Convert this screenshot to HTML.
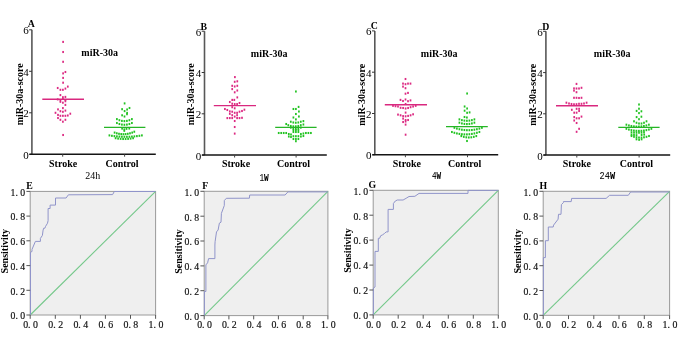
<!DOCTYPE html><html><head><meta charset="utf-8"><style>
html,body{margin:0;padding:0;background:#fff;overflow:hidden;}
svg{display:block;will-change:transform;}
text{font-family:'Liberation Serif', serif;}
.b{font-weight:bold;}
</style></head><body>
<svg width="685" height="358" viewBox="0 0 685 358">
<rect width="685" height="358" fill="#fff"/>
<line x1="31.9" y1="29.8" x2="31.9" y2="154.3" stroke="#585858" stroke-width="1.6"/>
<line x1="29.1" y1="154.3" x2="31.9" y2="154.3" stroke="#333" stroke-width="1"/>
<text x="25.9" y="158.7" font-size="11" text-anchor="middle">0</text>
<line x1="29.1" y1="112.8" x2="31.9" y2="112.8" stroke="#333" stroke-width="1"/>
<text x="25.9" y="117.2" font-size="11" text-anchor="middle">2</text>
<line x1="29.1" y1="71.3" x2="31.9" y2="71.3" stroke="#333" stroke-width="1"/>
<text x="25.9" y="75.7" font-size="11" text-anchor="middle">4</text>
<line x1="29.1" y1="29.8" x2="31.9" y2="29.8" stroke="#333" stroke-width="1"/>
<text x="25.9" y="34.2" font-size="11" text-anchor="middle">6</text>
<line x1="29.5" y1="154.3" x2="155.8" y2="154.3" stroke="#151515" stroke-width="1.5"/>
<line x1="62.7" y1="154.3" x2="62.7" y2="156.7" stroke="#444" stroke-width="1"/>
<line x1="124.6" y1="154.3" x2="124.6" y2="156.7" stroke="#444" stroke-width="1"/>
<text class="b" x="63.1" y="166.5" font-size="10" text-anchor="middle">Stroke</text>
<text class="b" x="122.0" y="166.5" font-size="10" text-anchor="middle">Control</text>
<text x="92.75" y="178.8" font-size="10.8" text-anchor="middle" textLength="14.9" lengthAdjust="spacingAndGlyphs">24h</text>
<text class="b" x="31.2" y="26.6" font-size="9.8" text-anchor="middle">A</text>
<text class="b" x="0" y="0" font-size="10" text-anchor="middle" transform="translate(23.2,94.3) rotate(-90)">miR-30a-score</text>
<text class="b" x="99.7" y="55.7" font-size="10" text-anchor="middle">miR-30a</text>
<rect x="62.25" y="40.85" width="1.7" height="2.1" fill="#dc2a82"/>
<rect x="62.25" y="50.95" width="1.7" height="2.1" fill="#dc2a82"/>
<rect x="62.25" y="60.75" width="1.7" height="2.1" fill="#dc2a82"/>
<rect x="64.55" y="70.95" width="1.7" height="2.1" fill="#dc2a82"/>
<rect x="62.25" y="72.35" width="1.7" height="2.1" fill="#dc2a82"/>
<rect x="62.25" y="76.85" width="1.7" height="2.1" fill="#dc2a82"/>
<rect x="62.25" y="81.65" width="1.7" height="2.1" fill="#dc2a82"/>
<rect x="56.85" y="86.95" width="1.7" height="2.1" fill="#dc2a82"/>
<rect x="59.55" y="88.75" width="1.7" height="2.1" fill="#dc2a82"/>
<rect x="62.05" y="88.75" width="1.7" height="2.1" fill="#dc2a82"/>
<rect x="64.55" y="87.55" width="1.7" height="2.1" fill="#dc2a82"/>
<rect x="66.95" y="85.55" width="1.7" height="2.1" fill="#dc2a82"/>
<rect x="59.55" y="94.05" width="1.7" height="2.1" fill="#dc2a82"/>
<rect x="62.05" y="96.15" width="1.7" height="2.1" fill="#dc2a82"/>
<rect x="64.55" y="95.85" width="1.7" height="2.1" fill="#dc2a82"/>
<rect x="56.85" y="98.35" width="1.7" height="2.1" fill="#dc2a82"/>
<rect x="59.55" y="99.25" width="1.7" height="2.1" fill="#dc2a82"/>
<rect x="62.05" y="97.75" width="1.7" height="2.1" fill="#dc2a82"/>
<rect x="64.55" y="98.95" width="1.7" height="2.1" fill="#dc2a82"/>
<rect x="59.55" y="100.75" width="1.7" height="2.1" fill="#dc2a82"/>
<rect x="62.05" y="101.65" width="1.7" height="2.1" fill="#dc2a82"/>
<rect x="64.55" y="100.15" width="1.7" height="2.1" fill="#dc2a82"/>
<rect x="64.55" y="103.85" width="1.7" height="2.1" fill="#dc2a82"/>
<rect x="62.05" y="107.05" width="1.7" height="2.1" fill="#dc2a82"/>
<rect x="57.15" y="108.35" width="1.7" height="2.1" fill="#dc2a82"/>
<rect x="59.55" y="110.15" width="1.7" height="2.1" fill="#dc2a82"/>
<rect x="62.05" y="110.75" width="1.7" height="2.1" fill="#dc2a82"/>
<rect x="64.55" y="109.55" width="1.7" height="2.1" fill="#dc2a82"/>
<rect x="54.65" y="111.75" width="1.7" height="2.1" fill="#dc2a82"/>
<rect x="57.15" y="113.85" width="1.7" height="2.1" fill="#dc2a82"/>
<rect x="59.55" y="114.75" width="1.7" height="2.1" fill="#dc2a82"/>
<rect x="62.05" y="114.75" width="1.7" height="2.1" fill="#dc2a82"/>
<rect x="64.55" y="114.75" width="1.7" height="2.1" fill="#dc2a82"/>
<rect x="66.95" y="114.45" width="1.7" height="2.1" fill="#dc2a82"/>
<rect x="69.45" y="112.65" width="1.7" height="2.1" fill="#dc2a82"/>
<rect x="57.15" y="116.95" width="1.7" height="2.1" fill="#dc2a82"/>
<rect x="59.55" y="118.75" width="1.7" height="2.1" fill="#dc2a82"/>
<rect x="62.05" y="120.65" width="1.7" height="2.1" fill="#dc2a82"/>
<rect x="64.55" y="118.75" width="1.7" height="2.1" fill="#dc2a82"/>
<rect x="62.25" y="133.95" width="1.7" height="2.1" fill="#dc2a82"/>
<rect x="123.75" y="102.35" width="1.7" height="2.1" fill="#22c322"/>
<rect x="121.25" y="108.15" width="1.7" height="2.1" fill="#22c322"/>
<rect x="123.75" y="110.05" width="1.7" height="2.1" fill="#22c322"/>
<rect x="126.25" y="108.45" width="1.7" height="2.1" fill="#22c322"/>
<rect x="128.65" y="106.95" width="1.7" height="2.1" fill="#22c322"/>
<rect x="126.25" y="111.85" width="1.7" height="2.1" fill="#22c322"/>
<rect x="121.25" y="114.25" width="1.7" height="2.1" fill="#22c322"/>
<rect x="123.65" y="115.45" width="1.7" height="2.1" fill="#22c322"/>
<rect x="126.15" y="113.15" width="1.7" height="2.1" fill="#22c322"/>
<rect x="116.05" y="118.05" width="1.7" height="2.1" fill="#22c322"/>
<rect x="118.55" y="119.16" width="1.7" height="2.1" fill="#22c322"/>
<rect x="121.05" y="119.83" width="1.7" height="2.1" fill="#22c322"/>
<rect x="123.55" y="120.05" width="1.7" height="2.1" fill="#22c322"/>
<rect x="126.05" y="119.83" width="1.7" height="2.1" fill="#22c322"/>
<rect x="128.55" y="119.16" width="1.7" height="2.1" fill="#22c322"/>
<rect x="131.05" y="118.05" width="1.7" height="2.1" fill="#22c322"/>
<rect x="116.05" y="121.95" width="1.7" height="2.1" fill="#22c322"/>
<rect x="118.55" y="122.95" width="1.7" height="2.1" fill="#22c322"/>
<rect x="121.05" y="123.55" width="1.7" height="2.1" fill="#22c322"/>
<rect x="123.55" y="123.75" width="1.7" height="2.1" fill="#22c322"/>
<rect x="126.05" y="123.55" width="1.7" height="2.1" fill="#22c322"/>
<rect x="128.55" y="122.95" width="1.7" height="2.1" fill="#22c322"/>
<rect x="131.05" y="121.95" width="1.7" height="2.1" fill="#22c322"/>
<rect x="121.25" y="127.55" width="1.7" height="2.1" fill="#22c322"/>
<rect x="123.45" y="128.35" width="1.7" height="2.1" fill="#22c322"/>
<rect x="125.65" y="127.75" width="1.7" height="2.1" fill="#22c322"/>
<rect x="128.45" y="127.45" width="1.7" height="2.1" fill="#22c322"/>
<rect x="123.45" y="129.75" width="1.7" height="2.1" fill="#22c322"/>
<rect x="133.45" y="130.65" width="1.7" height="2.1" fill="#22c322"/>
<rect x="113.75" y="131.55" width="1.7" height="2.1" fill="#22c322"/>
<rect x="115.95" y="132.25" width="1.7" height="2.1" fill="#22c322"/>
<rect x="118.15" y="132.75" width="1.7" height="2.1" fill="#22c322"/>
<rect x="120.35" y="133.05" width="1.7" height="2.1" fill="#22c322"/>
<rect x="122.55" y="133.15" width="1.7" height="2.1" fill="#22c322"/>
<rect x="124.75" y="133.05" width="1.7" height="2.1" fill="#22c322"/>
<rect x="126.95" y="132.75" width="1.7" height="2.1" fill="#22c322"/>
<rect x="129.15" y="132.25" width="1.7" height="2.1" fill="#22c322"/>
<rect x="131.35" y="131.55" width="1.7" height="2.1" fill="#22c322"/>
<rect x="108.55" y="134.35" width="1.7" height="2.1" fill="#22c322"/>
<rect x="111.05" y="134.75" width="1.7" height="2.1" fill="#22c322"/>
<rect x="113.55" y="135.08" width="1.7" height="2.1" fill="#22c322"/>
<rect x="116.05" y="135.34" width="1.7" height="2.1" fill="#22c322"/>
<rect x="118.55" y="135.54" width="1.7" height="2.1" fill="#22c322"/>
<rect x="121.05" y="135.68" width="1.7" height="2.1" fill="#22c322"/>
<rect x="123.55" y="135.74" width="1.7" height="2.1" fill="#22c322"/>
<rect x="126.05" y="135.74" width="1.7" height="2.1" fill="#22c322"/>
<rect x="128.55" y="135.68" width="1.7" height="2.1" fill="#22c322"/>
<rect x="131.05" y="135.54" width="1.7" height="2.1" fill="#22c322"/>
<rect x="133.55" y="135.34" width="1.7" height="2.1" fill="#22c322"/>
<rect x="136.05" y="135.08" width="1.7" height="2.1" fill="#22c322"/>
<rect x="138.55" y="134.75" width="1.7" height="2.1" fill="#22c322"/>
<rect x="141.05" y="134.35" width="1.7" height="2.1" fill="#22c322"/>
<rect x="114.75" y="137.15" width="1.7" height="2.1" fill="#22c322"/>
<rect x="117.25" y="137.54" width="1.7" height="2.1" fill="#22c322"/>
<rect x="119.75" y="137.80" width="1.7" height="2.1" fill="#22c322"/>
<rect x="122.25" y="137.93" width="1.7" height="2.1" fill="#22c322"/>
<rect x="124.75" y="137.93" width="1.7" height="2.1" fill="#22c322"/>
<rect x="127.25" y="137.80" width="1.7" height="2.1" fill="#22c322"/>
<rect x="129.75" y="137.54" width="1.7" height="2.1" fill="#22c322"/>
<rect x="132.25" y="137.15" width="1.7" height="2.1" fill="#22c322"/>
<line x1="42.3" y1="99.2" x2="84.0" y2="99.2" stroke="#d9287f" stroke-width="1.4"/>
<line x1="104.0" y1="127.4" x2="145.4" y2="127.4" stroke="#26b526" stroke-width="1.4"/>
<line x1="204.5" y1="31.2" x2="204.5" y2="155.1" stroke="#585858" stroke-width="1.6"/>
<line x1="201.7" y1="155.1" x2="204.5" y2="155.1" stroke="#333" stroke-width="1"/>
<text x="198.5" y="159.5" font-size="11" text-anchor="middle">0</text>
<line x1="201.7" y1="113.8" x2="204.5" y2="113.8" stroke="#333" stroke-width="1"/>
<text x="198.5" y="118.2" font-size="11" text-anchor="middle">2</text>
<line x1="201.7" y1="72.5" x2="204.5" y2="72.5" stroke="#333" stroke-width="1"/>
<text x="198.5" y="76.9" font-size="11" text-anchor="middle">4</text>
<line x1="201.7" y1="31.2" x2="204.5" y2="31.2" stroke="#333" stroke-width="1"/>
<text x="198.5" y="35.6" font-size="11" text-anchor="middle">6</text>
<line x1="202.1" y1="155.1" x2="326.8" y2="155.1" stroke="#151515" stroke-width="1.5"/>
<line x1="234.6" y1="155.1" x2="234.6" y2="157.5" stroke="#444" stroke-width="1"/>
<line x1="296.1" y1="155.1" x2="296.1" y2="157.5" stroke="#444" stroke-width="1"/>
<text class="b" x="236.0" y="167.3" font-size="10" text-anchor="middle">Stroke</text>
<text class="b" x="293.5" y="167.3" font-size="10" text-anchor="middle">Control</text>
<text x="264.10" y="180.6" font-size="11" text-anchor="middle" textLength="9.4" lengthAdjust="spacingAndGlyphs" style="font-family:'Liberation Mono',monospace" stroke="#333" stroke-width="0.1">1<tspan font-weight="bold">W</tspan></text>
<text class="b" x="203.7" y="29.6" font-size="9.8" text-anchor="middle">B</text>
<text class="b" x="0" y="0" font-size="10" text-anchor="middle" transform="translate(194.2,94.2) rotate(-90)">miR-30a-score</text>
<text class="b" x="269.2" y="56.6" font-size="10" text-anchor="middle">miR-30a</text>
<rect x="234.05" y="76.05" width="1.7" height="2.1" fill="#dc2a82"/>
<rect x="233.85" y="80.75" width="1.7" height="2.1" fill="#dc2a82"/>
<rect x="236.45" y="80.25" width="1.7" height="2.1" fill="#dc2a82"/>
<rect x="231.35" y="84.75" width="1.7" height="2.1" fill="#dc2a82"/>
<rect x="233.85" y="85.45" width="1.7" height="2.1" fill="#dc2a82"/>
<rect x="236.45" y="84.75" width="1.7" height="2.1" fill="#dc2a82"/>
<rect x="231.35" y="88.05" width="1.7" height="2.1" fill="#dc2a82"/>
<rect x="236.45" y="89.45" width="1.7" height="2.1" fill="#dc2a82"/>
<rect x="233.85" y="91.25" width="1.7" height="2.1" fill="#dc2a82"/>
<rect x="236.45" y="96.35" width="1.7" height="2.1" fill="#dc2a82"/>
<rect x="231.35" y="98.85" width="1.7" height="2.1" fill="#dc2a82"/>
<rect x="233.45" y="98.85" width="1.7" height="2.1" fill="#dc2a82"/>
<rect x="228.95" y="100.95" width="1.7" height="2.1" fill="#dc2a82"/>
<rect x="231.35" y="102.65" width="1.7" height="2.1" fill="#dc2a82"/>
<rect x="233.85" y="103.05" width="1.7" height="2.1" fill="#dc2a82"/>
<rect x="236.25" y="103.05" width="1.7" height="2.1" fill="#dc2a82"/>
<rect x="238.65" y="101.95" width="1.7" height="2.1" fill="#dc2a82"/>
<rect x="231.35" y="106.15" width="1.7" height="2.1" fill="#dc2a82"/>
<rect x="233.85" y="107.25" width="1.7" height="2.1" fill="#dc2a82"/>
<rect x="224.05" y="107.95" width="1.7" height="2.1" fill="#dc2a82"/>
<rect x="226.45" y="108.95" width="1.7" height="2.1" fill="#dc2a82"/>
<rect x="228.95" y="110.35" width="1.7" height="2.1" fill="#dc2a82"/>
<rect x="231.35" y="110.65" width="1.7" height="2.1" fill="#dc2a82"/>
<rect x="233.85" y="111.75" width="1.7" height="2.1" fill="#dc2a82"/>
<rect x="236.25" y="111.75" width="1.7" height="2.1" fill="#dc2a82"/>
<rect x="238.65" y="110.65" width="1.7" height="2.1" fill="#dc2a82"/>
<rect x="241.15" y="109.95" width="1.7" height="2.1" fill="#dc2a82"/>
<rect x="243.55" y="108.65" width="1.7" height="2.1" fill="#dc2a82"/>
<rect x="228.95" y="112.75" width="1.7" height="2.1" fill="#dc2a82"/>
<rect x="231.35" y="114.15" width="1.7" height="2.1" fill="#dc2a82"/>
<rect x="233.85" y="115.55" width="1.7" height="2.1" fill="#dc2a82"/>
<rect x="236.25" y="114.15" width="1.7" height="2.1" fill="#dc2a82"/>
<rect x="226.45" y="117.05" width="1.7" height="2.1" fill="#dc2a82"/>
<rect x="228.95" y="117.05" width="1.7" height="2.1" fill="#dc2a82"/>
<rect x="231.35" y="117.05" width="1.7" height="2.1" fill="#dc2a82"/>
<rect x="236.25" y="117.05" width="1.7" height="2.1" fill="#dc2a82"/>
<rect x="238.65" y="117.05" width="1.7" height="2.1" fill="#dc2a82"/>
<rect x="241.15" y="116.75" width="1.7" height="2.1" fill="#dc2a82"/>
<rect x="233.85" y="119.95" width="1.7" height="2.1" fill="#dc2a82"/>
<rect x="233.85" y="125.95" width="1.7" height="2.1" fill="#dc2a82"/>
<rect x="233.85" y="132.55" width="1.7" height="2.1" fill="#dc2a82"/>
<rect x="295.05" y="90.45" width="1.7" height="2.1" fill="#22c322"/>
<rect x="297.75" y="105.85" width="1.7" height="2.1" fill="#22c322"/>
<rect x="292.55" y="107.95" width="1.7" height="2.1" fill="#22c322"/>
<rect x="295.05" y="107.95" width="1.7" height="2.1" fill="#22c322"/>
<rect x="298.05" y="110.45" width="1.7" height="2.1" fill="#22c322"/>
<rect x="295.05" y="112.95" width="1.7" height="2.1" fill="#22c322"/>
<rect x="298.05" y="115.45" width="1.7" height="2.1" fill="#22c322"/>
<rect x="292.55" y="116.45" width="1.7" height="2.1" fill="#22c322"/>
<rect x="295.05" y="118.35" width="1.7" height="2.1" fill="#22c322"/>
<rect x="302.55" y="120.05" width="1.7" height="2.1" fill="#22c322"/>
<rect x="289.95" y="120.68" width="1.7" height="2.1" fill="#22c322"/>
<rect x="292.45" y="121.43" width="1.7" height="2.1" fill="#22c322"/>
<rect x="294.95" y="121.68" width="1.7" height="2.1" fill="#22c322"/>
<rect x="297.45" y="121.43" width="1.7" height="2.1" fill="#22c322"/>
<rect x="299.95" y="120.68" width="1.7" height="2.1" fill="#22c322"/>
<rect x="285.35" y="122.95" width="1.7" height="2.1" fill="#22c322"/>
<rect x="302.55" y="123.45" width="1.7" height="2.1" fill="#22c322"/>
<rect x="287.45" y="124.15" width="1.7" height="2.1" fill="#22c322"/>
<rect x="289.95" y="124.92" width="1.7" height="2.1" fill="#22c322"/>
<rect x="292.45" y="125.30" width="1.7" height="2.1" fill="#22c322"/>
<rect x="294.95" y="125.30" width="1.7" height="2.1" fill="#22c322"/>
<rect x="297.45" y="124.92" width="1.7" height="2.1" fill="#22c322"/>
<rect x="299.95" y="124.15" width="1.7" height="2.1" fill="#22c322"/>
<rect x="289.95" y="126.58" width="1.7" height="2.1" fill="#22c322"/>
<rect x="292.45" y="127.33" width="1.7" height="2.1" fill="#22c322"/>
<rect x="294.95" y="127.58" width="1.7" height="2.1" fill="#22c322"/>
<rect x="297.45" y="127.33" width="1.7" height="2.1" fill="#22c322"/>
<rect x="299.95" y="126.58" width="1.7" height="2.1" fill="#22c322"/>
<rect x="292.55" y="128.95" width="1.7" height="2.1" fill="#22c322"/>
<rect x="295.05" y="128.95" width="1.7" height="2.1" fill="#22c322"/>
<rect x="297.55" y="128.95" width="1.7" height="2.1" fill="#22c322"/>
<rect x="292.55" y="130.95" width="1.7" height="2.1" fill="#22c322"/>
<rect x="295.05" y="130.95" width="1.7" height="2.1" fill="#22c322"/>
<rect x="297.55" y="130.95" width="1.7" height="2.1" fill="#22c322"/>
<rect x="277.85" y="131.95" width="1.7" height="2.1" fill="#22c322"/>
<rect x="280.35" y="131.95" width="1.7" height="2.1" fill="#22c322"/>
<rect x="282.85" y="131.95" width="1.7" height="2.1" fill="#22c322"/>
<rect x="285.35" y="131.95" width="1.7" height="2.1" fill="#22c322"/>
<rect x="305.05" y="131.95" width="1.7" height="2.1" fill="#22c322"/>
<rect x="307.55" y="131.95" width="1.7" height="2.1" fill="#22c322"/>
<rect x="310.05" y="131.95" width="1.7" height="2.1" fill="#22c322"/>
<rect x="287.95" y="132.95" width="1.7" height="2.1" fill="#22c322"/>
<rect x="287.95" y="135.45" width="1.7" height="2.1" fill="#22c322"/>
<rect x="290.15" y="133.45" width="1.7" height="2.1" fill="#22c322"/>
<rect x="290.15" y="135.95" width="1.7" height="2.1" fill="#22c322"/>
<rect x="300.05" y="132.95" width="1.7" height="2.1" fill="#22c322"/>
<rect x="300.05" y="135.45" width="1.7" height="2.1" fill="#22c322"/>
<rect x="302.55" y="132.45" width="1.7" height="2.1" fill="#22c322"/>
<rect x="302.55" y="134.95" width="1.7" height="2.1" fill="#22c322"/>
<rect x="292.55" y="135.15" width="1.7" height="2.1" fill="#22c322"/>
<rect x="295.05" y="135.15" width="1.7" height="2.1" fill="#22c322"/>
<rect x="297.55" y="135.15" width="1.7" height="2.1" fill="#22c322"/>
<rect x="292.55" y="137.95" width="1.7" height="2.1" fill="#22c322"/>
<rect x="295.05" y="137.95" width="1.7" height="2.1" fill="#22c322"/>
<rect x="297.55" y="137.95" width="1.7" height="2.1" fill="#22c322"/>
<rect x="295.05" y="140.15" width="1.7" height="2.1" fill="#22c322"/>
<line x1="213.8" y1="105.6" x2="256.0" y2="105.6" stroke="#d9287f" stroke-width="1.4"/>
<line x1="275.2" y1="127.4" x2="316.6" y2="127.4" stroke="#26b526" stroke-width="1.4"/>
<line x1="374.8" y1="30.9" x2="374.8" y2="154.8" stroke="#585858" stroke-width="1.6"/>
<line x1="372.0" y1="154.8" x2="374.8" y2="154.8" stroke="#333" stroke-width="1"/>
<text x="368.8" y="159.2" font-size="11" text-anchor="middle">0</text>
<line x1="372.0" y1="113.5" x2="374.8" y2="113.5" stroke="#333" stroke-width="1"/>
<text x="368.8" y="117.9" font-size="11" text-anchor="middle">2</text>
<line x1="372.0" y1="72.2" x2="374.8" y2="72.2" stroke="#333" stroke-width="1"/>
<text x="368.8" y="76.6" font-size="11" text-anchor="middle">4</text>
<line x1="372.0" y1="30.9" x2="374.8" y2="30.9" stroke="#333" stroke-width="1"/>
<text x="368.8" y="35.3" font-size="11" text-anchor="middle">6</text>
<line x1="372.4" y1="154.8" x2="498.2" y2="154.8" stroke="#151515" stroke-width="1.5"/>
<line x1="405.4" y1="154.8" x2="405.4" y2="157.2" stroke="#444" stroke-width="1"/>
<line x1="467.5" y1="154.8" x2="467.5" y2="157.2" stroke="#444" stroke-width="1"/>
<text class="b" x="406.9" y="167.0" font-size="10" text-anchor="middle">Stroke</text>
<text class="b" x="464.7" y="167.0" font-size="10" text-anchor="middle">Control</text>
<text x="436.60" y="178.6" font-size="11" text-anchor="middle" textLength="9.2" lengthAdjust="spacingAndGlyphs" style="font-family:'Liberation Mono',monospace" stroke="#333" stroke-width="0.1">4<tspan font-weight="bold">W</tspan></text>
<text class="b" x="374.4" y="28.7" font-size="9.8" text-anchor="middle">C</text>
<text class="b" x="0" y="0" font-size="10" text-anchor="middle" transform="translate(365.4,94.7) rotate(-90)">miR-30a-score</text>
<text class="b" x="439.2" y="56.6" font-size="10" text-anchor="middle">miR-30a</text>
<rect x="404.65" y="77.95" width="1.7" height="2.1" fill="#dc2a82"/>
<rect x="402.15" y="82.55" width="1.7" height="2.1" fill="#dc2a82"/>
<rect x="404.65" y="83.15" width="1.7" height="2.1" fill="#dc2a82"/>
<rect x="407.15" y="82.55" width="1.7" height="2.1" fill="#dc2a82"/>
<rect x="409.65" y="82.55" width="1.7" height="2.1" fill="#dc2a82"/>
<rect x="402.15" y="85.55" width="1.7" height="2.1" fill="#dc2a82"/>
<rect x="404.65" y="87.15" width="1.7" height="2.1" fill="#dc2a82"/>
<rect x="404.65" y="92.65" width="1.7" height="2.1" fill="#dc2a82"/>
<rect x="407.15" y="91.85" width="1.7" height="2.1" fill="#dc2a82"/>
<rect x="399.65" y="98.85" width="1.7" height="2.1" fill="#dc2a82"/>
<rect x="402.15" y="99.95" width="1.7" height="2.1" fill="#dc2a82"/>
<rect x="404.65" y="98.45" width="1.7" height="2.1" fill="#dc2a82"/>
<rect x="407.15" y="100.15" width="1.7" height="2.1" fill="#dc2a82"/>
<rect x="409.65" y="99.35" width="1.7" height="2.1" fill="#dc2a82"/>
<rect x="404.75" y="102.95" width="1.7" height="2.1" fill="#dc2a82"/>
<rect x="392.15" y="104.75" width="1.7" height="2.1" fill="#dc2a82"/>
<rect x="394.65" y="105.15" width="1.7" height="2.1" fill="#dc2a82"/>
<rect x="397.15" y="105.45" width="1.7" height="2.1" fill="#dc2a82"/>
<rect x="399.75" y="106.75" width="1.7" height="2.1" fill="#dc2a82"/>
<rect x="402.25" y="106.95" width="1.7" height="2.1" fill="#dc2a82"/>
<rect x="404.75" y="107.45" width="1.7" height="2.1" fill="#dc2a82"/>
<rect x="407.25" y="106.95" width="1.7" height="2.1" fill="#dc2a82"/>
<rect x="409.75" y="106.15" width="1.7" height="2.1" fill="#dc2a82"/>
<rect x="412.25" y="105.45" width="1.7" height="2.1" fill="#dc2a82"/>
<rect x="414.85" y="104.75" width="1.7" height="2.1" fill="#dc2a82"/>
<rect x="404.75" y="111.55" width="1.7" height="2.1" fill="#dc2a82"/>
<rect x="397.15" y="113.55" width="1.7" height="2.1" fill="#dc2a82"/>
<rect x="399.75" y="114.25" width="1.7" height="2.1" fill="#dc2a82"/>
<rect x="402.25" y="115.05" width="1.7" height="2.1" fill="#dc2a82"/>
<rect x="404.75" y="115.25" width="1.7" height="2.1" fill="#dc2a82"/>
<rect x="407.25" y="114.85" width="1.7" height="2.1" fill="#dc2a82"/>
<rect x="409.75" y="114.25" width="1.7" height="2.1" fill="#dc2a82"/>
<rect x="412.25" y="113.25" width="1.7" height="2.1" fill="#dc2a82"/>
<rect x="402.25" y="117.55" width="1.7" height="2.1" fill="#dc2a82"/>
<rect x="404.75" y="118.95" width="1.7" height="2.1" fill="#dc2a82"/>
<rect x="407.25" y="118.95" width="1.7" height="2.1" fill="#dc2a82"/>
<rect x="402.25" y="120.95" width="1.7" height="2.1" fill="#dc2a82"/>
<rect x="404.75" y="120.45" width="1.7" height="2.1" fill="#dc2a82"/>
<rect x="404.75" y="123.55" width="1.7" height="2.1" fill="#dc2a82"/>
<rect x="404.75" y="133.65" width="1.7" height="2.1" fill="#dc2a82"/>
<rect x="466.25" y="92.45" width="1.7" height="2.1" fill="#22c322"/>
<rect x="463.75" y="105.45" width="1.7" height="2.1" fill="#22c322"/>
<rect x="466.25" y="107.45" width="1.7" height="2.1" fill="#22c322"/>
<rect x="463.75" y="109.65" width="1.7" height="2.1" fill="#22c322"/>
<rect x="466.25" y="111.75" width="1.7" height="2.1" fill="#22c322"/>
<rect x="468.75" y="111.35" width="1.7" height="2.1" fill="#22c322"/>
<rect x="463.65" y="115.95" width="1.7" height="2.1" fill="#22c322"/>
<rect x="466.05" y="116.45" width="1.7" height="2.1" fill="#22c322"/>
<rect x="458.55" y="118.32" width="1.7" height="2.1" fill="#22c322"/>
<rect x="461.05" y="119.09" width="1.7" height="2.1" fill="#22c322"/>
<rect x="463.55" y="119.56" width="1.7" height="2.1" fill="#22c322"/>
<rect x="466.05" y="119.72" width="1.7" height="2.1" fill="#22c322"/>
<rect x="468.55" y="119.56" width="1.7" height="2.1" fill="#22c322"/>
<rect x="471.05" y="119.09" width="1.7" height="2.1" fill="#22c322"/>
<rect x="473.55" y="118.32" width="1.7" height="2.1" fill="#22c322"/>
<rect x="458.55" y="121.62" width="1.7" height="2.1" fill="#22c322"/>
<rect x="461.05" y="122.39" width="1.7" height="2.1" fill="#22c322"/>
<rect x="463.55" y="122.86" width="1.7" height="2.1" fill="#22c322"/>
<rect x="466.05" y="123.02" width="1.7" height="2.1" fill="#22c322"/>
<rect x="468.55" y="122.86" width="1.7" height="2.1" fill="#22c322"/>
<rect x="471.05" y="122.39" width="1.7" height="2.1" fill="#22c322"/>
<rect x="473.55" y="121.62" width="1.7" height="2.1" fill="#22c322"/>
<rect x="453.55" y="126.75" width="1.7" height="2.1" fill="#22c322"/>
<rect x="456.05" y="127.54" width="1.7" height="2.1" fill="#22c322"/>
<rect x="458.55" y="128.18" width="1.7" height="2.1" fill="#22c322"/>
<rect x="461.05" y="128.65" width="1.7" height="2.1" fill="#22c322"/>
<rect x="463.55" y="128.97" width="1.7" height="2.1" fill="#22c322"/>
<rect x="466.05" y="129.13" width="1.7" height="2.1" fill="#22c322"/>
<rect x="468.55" y="129.13" width="1.7" height="2.1" fill="#22c322"/>
<rect x="471.05" y="128.97" width="1.7" height="2.1" fill="#22c322"/>
<rect x="473.55" y="128.65" width="1.7" height="2.1" fill="#22c322"/>
<rect x="476.05" y="128.18" width="1.7" height="2.1" fill="#22c322"/>
<rect x="478.55" y="127.54" width="1.7" height="2.1" fill="#22c322"/>
<rect x="481.05" y="126.75" width="1.7" height="2.1" fill="#22c322"/>
<rect x="451.05" y="130.95" width="1.7" height="2.1" fill="#22c322"/>
<rect x="453.55" y="131.74" width="1.7" height="2.1" fill="#22c322"/>
<rect x="456.05" y="132.38" width="1.7" height="2.1" fill="#22c322"/>
<rect x="458.55" y="132.85" width="1.7" height="2.1" fill="#22c322"/>
<rect x="461.05" y="133.17" width="1.7" height="2.1" fill="#22c322"/>
<rect x="463.55" y="133.33" width="1.7" height="2.1" fill="#22c322"/>
<rect x="466.05" y="133.33" width="1.7" height="2.1" fill="#22c322"/>
<rect x="468.55" y="133.17" width="1.7" height="2.1" fill="#22c322"/>
<rect x="471.05" y="132.85" width="1.7" height="2.1" fill="#22c322"/>
<rect x="473.55" y="132.38" width="1.7" height="2.1" fill="#22c322"/>
<rect x="476.05" y="131.74" width="1.7" height="2.1" fill="#22c322"/>
<rect x="478.55" y="130.95" width="1.7" height="2.1" fill="#22c322"/>
<rect x="460.45" y="135.02" width="1.7" height="2.1" fill="#22c322"/>
<rect x="462.95" y="135.79" width="1.7" height="2.1" fill="#22c322"/>
<rect x="465.45" y="136.26" width="1.7" height="2.1" fill="#22c322"/>
<rect x="467.95" y="136.42" width="1.7" height="2.1" fill="#22c322"/>
<rect x="470.45" y="136.26" width="1.7" height="2.1" fill="#22c322"/>
<rect x="472.95" y="135.79" width="1.7" height="2.1" fill="#22c322"/>
<rect x="475.45" y="135.02" width="1.7" height="2.1" fill="#22c322"/>
<rect x="466.15" y="139.95" width="1.7" height="2.1" fill="#22c322"/>
<line x1="384.8" y1="104.8" x2="427.0" y2="104.8" stroke="#d9287f" stroke-width="1.4"/>
<line x1="446.0" y1="126.6" x2="487.8" y2="126.6" stroke="#26b526" stroke-width="1.4"/>
<line x1="545.9" y1="31.3" x2="545.9" y2="155.1" stroke="#585858" stroke-width="1.6"/>
<line x1="543.1" y1="155.1" x2="545.9" y2="155.1" stroke="#333" stroke-width="1"/>
<text x="539.9" y="159.5" font-size="11" text-anchor="middle">0</text>
<line x1="543.1" y1="113.8" x2="545.9" y2="113.8" stroke="#333" stroke-width="1"/>
<text x="539.9" y="118.2" font-size="11" text-anchor="middle">2</text>
<line x1="543.1" y1="72.6" x2="545.9" y2="72.6" stroke="#333" stroke-width="1"/>
<text x="539.9" y="77.0" font-size="11" text-anchor="middle">4</text>
<line x1="543.1" y1="31.3" x2="545.9" y2="31.3" stroke="#333" stroke-width="1"/>
<text x="539.9" y="35.7" font-size="11" text-anchor="middle">6</text>
<line x1="543.5" y1="155.1" x2="670.2" y2="155.1" stroke="#151515" stroke-width="1.5"/>
<line x1="576.8" y1="155.1" x2="576.8" y2="157.5" stroke="#444" stroke-width="1"/>
<line x1="639.1" y1="155.1" x2="639.1" y2="157.5" stroke="#444" stroke-width="1"/>
<text class="b" x="576.9" y="167.3" font-size="10" text-anchor="middle">Stroke</text>
<text class="b" x="636.4" y="167.3" font-size="10" text-anchor="middle">Control</text>
<text x="607.35" y="179.0" font-size="11" text-anchor="middle" textLength="15.5" lengthAdjust="spacingAndGlyphs" style="font-family:'Liberation Mono',monospace" stroke="#333" stroke-width="0.1">24<tspan font-weight="bold">W</tspan></text>
<text class="b" x="545.7" y="29.6" font-size="9.8" text-anchor="middle">D</text>
<text class="b" x="0" y="0" font-size="10" text-anchor="middle" transform="translate(536.3,94.7) rotate(-90)">miR-30a-score</text>
<text class="b" x="612.2" y="56.8" font-size="10" text-anchor="middle">miR-30a</text>
<rect x="575.65" y="82.85" width="1.7" height="2.1" fill="#dc2a82"/>
<rect x="573.15" y="87.35" width="1.7" height="2.1" fill="#dc2a82"/>
<rect x="575.65" y="87.45" width="1.7" height="2.1" fill="#dc2a82"/>
<rect x="578.15" y="87.45" width="1.7" height="2.1" fill="#dc2a82"/>
<rect x="580.65" y="86.75" width="1.7" height="2.1" fill="#dc2a82"/>
<rect x="573.15" y="89.55" width="1.7" height="2.1" fill="#dc2a82"/>
<rect x="575.65" y="91.15" width="1.7" height="2.1" fill="#dc2a82"/>
<rect x="573.15" y="96.75" width="1.7" height="2.1" fill="#dc2a82"/>
<rect x="575.65" y="96.75" width="1.7" height="2.1" fill="#dc2a82"/>
<rect x="578.15" y="96.95" width="1.7" height="2.1" fill="#dc2a82"/>
<rect x="580.65" y="96.75" width="1.7" height="2.1" fill="#dc2a82"/>
<rect x="565.55" y="101.65" width="1.7" height="2.1" fill="#dc2a82"/>
<rect x="568.15" y="102.45" width="1.7" height="2.1" fill="#dc2a82"/>
<rect x="570.65" y="102.95" width="1.7" height="2.1" fill="#dc2a82"/>
<rect x="573.15" y="103.25" width="1.7" height="2.1" fill="#dc2a82"/>
<rect x="575.65" y="103.15" width="1.7" height="2.1" fill="#dc2a82"/>
<rect x="578.15" y="102.75" width="1.7" height="2.1" fill="#dc2a82"/>
<rect x="580.65" y="102.75" width="1.7" height="2.1" fill="#dc2a82"/>
<rect x="583.15" y="102.45" width="1.7" height="2.1" fill="#dc2a82"/>
<rect x="585.75" y="101.65" width="1.7" height="2.1" fill="#dc2a82"/>
<rect x="575.75" y="107.75" width="1.7" height="2.1" fill="#dc2a82"/>
<rect x="578.25" y="107.75" width="1.7" height="2.1" fill="#dc2a82"/>
<rect x="570.95" y="108.75" width="1.7" height="2.1" fill="#dc2a82"/>
<rect x="578.25" y="109.95" width="1.7" height="2.1" fill="#dc2a82"/>
<rect x="573.35" y="111.65" width="1.7" height="2.1" fill="#dc2a82"/>
<rect x="575.75" y="111.65" width="1.7" height="2.1" fill="#dc2a82"/>
<rect x="573.35" y="116.05" width="1.7" height="2.1" fill="#dc2a82"/>
<rect x="575.75" y="117.25" width="1.7" height="2.1" fill="#dc2a82"/>
<rect x="578.25" y="117.25" width="1.7" height="2.1" fill="#dc2a82"/>
<rect x="580.65" y="115.55" width="1.7" height="2.1" fill="#dc2a82"/>
<rect x="573.35" y="119.45" width="1.7" height="2.1" fill="#dc2a82"/>
<rect x="575.75" y="121.95" width="1.7" height="2.1" fill="#dc2a82"/>
<rect x="578.25" y="127.75" width="1.7" height="2.1" fill="#dc2a82"/>
<rect x="575.75" y="130.75" width="1.7" height="2.1" fill="#dc2a82"/>
<rect x="638.15" y="103.45" width="1.7" height="2.1" fill="#22c322"/>
<rect x="638.15" y="107.65" width="1.7" height="2.1" fill="#22c322"/>
<rect x="635.75" y="109.85" width="1.7" height="2.1" fill="#22c322"/>
<rect x="640.55" y="110.25" width="1.7" height="2.1" fill="#22c322"/>
<rect x="638.15" y="112.05" width="1.7" height="2.1" fill="#22c322"/>
<rect x="635.75" y="116.05" width="1.7" height="2.1" fill="#22c322"/>
<rect x="640.55" y="115.65" width="1.7" height="2.1" fill="#22c322"/>
<rect x="638.15" y="118.15" width="1.7" height="2.1" fill="#22c322"/>
<rect x="633.15" y="120.25" width="1.7" height="2.1" fill="#22c322"/>
<rect x="635.65" y="121.72" width="1.7" height="2.1" fill="#22c322"/>
<rect x="638.15" y="122.46" width="1.7" height="2.1" fill="#22c322"/>
<rect x="640.65" y="122.46" width="1.7" height="2.1" fill="#22c322"/>
<rect x="643.15" y="121.72" width="1.7" height="2.1" fill="#22c322"/>
<rect x="645.65" y="120.25" width="1.7" height="2.1" fill="#22c322"/>
<rect x="625.55" y="123.65" width="1.7" height="2.1" fill="#22c322"/>
<rect x="628.05" y="124.40" width="1.7" height="2.1" fill="#22c322"/>
<rect x="630.55" y="124.96" width="1.7" height="2.1" fill="#22c322"/>
<rect x="633.05" y="125.34" width="1.7" height="2.1" fill="#22c322"/>
<rect x="635.55" y="125.53" width="1.7" height="2.1" fill="#22c322"/>
<rect x="638.05" y="125.53" width="1.7" height="2.1" fill="#22c322"/>
<rect x="640.55" y="125.34" width="1.7" height="2.1" fill="#22c322"/>
<rect x="643.05" y="124.96" width="1.7" height="2.1" fill="#22c322"/>
<rect x="645.55" y="124.40" width="1.7" height="2.1" fill="#22c322"/>
<rect x="648.05" y="123.65" width="1.7" height="2.1" fill="#22c322"/>
<rect x="625.55" y="127.75" width="1.7" height="2.1" fill="#22c322"/>
<rect x="628.05" y="128.51" width="1.7" height="2.1" fill="#22c322"/>
<rect x="630.55" y="129.09" width="1.7" height="2.1" fill="#22c322"/>
<rect x="633.05" y="129.51" width="1.7" height="2.1" fill="#22c322"/>
<rect x="635.55" y="129.77" width="1.7" height="2.1" fill="#22c322"/>
<rect x="638.05" y="129.85" width="1.7" height="2.1" fill="#22c322"/>
<rect x="640.55" y="129.77" width="1.7" height="2.1" fill="#22c322"/>
<rect x="643.05" y="129.51" width="1.7" height="2.1" fill="#22c322"/>
<rect x="645.55" y="129.09" width="1.7" height="2.1" fill="#22c322"/>
<rect x="648.05" y="128.51" width="1.7" height="2.1" fill="#22c322"/>
<rect x="650.55" y="127.75" width="1.7" height="2.1" fill="#22c322"/>
<rect x="630.65" y="131.28" width="1.7" height="2.1" fill="#22c322"/>
<rect x="633.15" y="131.54" width="1.7" height="2.1" fill="#22c322"/>
<rect x="635.65" y="131.67" width="1.7" height="2.1" fill="#22c322"/>
<rect x="638.15" y="131.67" width="1.7" height="2.1" fill="#22c322"/>
<rect x="640.65" y="131.54" width="1.7" height="2.1" fill="#22c322"/>
<rect x="643.15" y="131.28" width="1.7" height="2.1" fill="#22c322"/>
<rect x="630.65" y="133.55" width="1.7" height="2.1" fill="#22c322"/>
<rect x="633.15" y="133.85" width="1.7" height="2.1" fill="#22c322"/>
<rect x="635.65" y="134.15" width="1.7" height="2.1" fill="#22c322"/>
<rect x="640.75" y="133.85" width="1.7" height="2.1" fill="#22c322"/>
<rect x="643.35" y="133.55" width="1.7" height="2.1" fill="#22c322"/>
<rect x="630.65" y="134.95" width="1.7" height="2.1" fill="#22c322"/>
<rect x="633.15" y="135.73" width="1.7" height="2.1" fill="#22c322"/>
<rect x="635.65" y="136.26" width="1.7" height="2.1" fill="#22c322"/>
<rect x="638.15" y="136.52" width="1.7" height="2.1" fill="#22c322"/>
<rect x="640.65" y="136.52" width="1.7" height="2.1" fill="#22c322"/>
<rect x="643.15" y="136.26" width="1.7" height="2.1" fill="#22c322"/>
<rect x="645.65" y="135.73" width="1.7" height="2.1" fill="#22c322"/>
<rect x="648.15" y="134.95" width="1.7" height="2.1" fill="#22c322"/>
<rect x="635.65" y="138.25" width="1.7" height="2.1" fill="#22c322"/>
<rect x="638.25" y="138.75" width="1.7" height="2.1" fill="#22c322"/>
<rect x="640.75" y="138.25" width="1.7" height="2.1" fill="#22c322"/>
<line x1="556.0" y1="105.8" x2="598.0" y2="105.8" stroke="#d9287f" stroke-width="1.4"/>
<line x1="618.3" y1="127.4" x2="659.6" y2="127.4" stroke="#26b526" stroke-width="1.4"/>
<rect x="30.2" y="191.4" width="125.4" height="123.6" fill="#efefef" stroke="#9a9a9a" stroke-width="1"/>
<line x1="30.2" y1="315.0" x2="155.6" y2="191.4" stroke="#74c88a" stroke-width="1.1"/>
<path d="M30.5,314.8 L30.5,252.2 L32,251.5 L32,249.4 L35.4,241.4 L40.4,241.4 L40.4,238.4 L42.4,235.4 L43.1,230.1 L43.7,228.2 L44.9,228.2 L45.6,226.3 L47.5,223.2 L48.1,220.6 L48.1,208.5 L50.1,208.5 L50.1,205.1 L55.5,205.1 L55.5,198 L66.1,198 L68.4,194.8 L112.6,194.6 L114.3,191.5 L155.5,191.5" fill="none" stroke="#9094ca" stroke-width="1.0"/>
<line x1="26.4" y1="315.0" x2="30.2" y2="315.0" stroke="#555" stroke-width="1"/>
<line x1="30.2" y1="315.0" x2="30.2" y2="318.8" stroke="#555" stroke-width="1"/>
<text x="25.2" y="319.3" font-size="11" text-anchor="end" textLength="14.6" lengthAdjust="spacingAndGlyphs" stroke="#333" stroke-width="0.2">0. 0</text>
<text x="30.6" y="327.7" font-size="11" text-anchor="middle" textLength="14.8" lengthAdjust="spacingAndGlyphs" stroke="#333" stroke-width="0.2">0. 0</text>
<line x1="26.4" y1="290.3" x2="30.2" y2="290.3" stroke="#555" stroke-width="1"/>
<line x1="55.3" y1="315.0" x2="55.3" y2="318.8" stroke="#555" stroke-width="1"/>
<text x="25.2" y="294.6" font-size="11" text-anchor="end" textLength="14.6" lengthAdjust="spacingAndGlyphs" stroke="#333" stroke-width="0.2">0. 2</text>
<text x="55.7" y="327.7" font-size="11" text-anchor="middle" textLength="14.8" lengthAdjust="spacingAndGlyphs" stroke="#333" stroke-width="0.2">0. 2</text>
<line x1="26.4" y1="265.6" x2="30.2" y2="265.6" stroke="#555" stroke-width="1"/>
<line x1="80.4" y1="315.0" x2="80.4" y2="318.8" stroke="#555" stroke-width="1"/>
<text x="25.2" y="269.9" font-size="11" text-anchor="end" textLength="14.6" lengthAdjust="spacingAndGlyphs" stroke="#333" stroke-width="0.2">0. 4</text>
<text x="80.8" y="327.7" font-size="11" text-anchor="middle" textLength="14.8" lengthAdjust="spacingAndGlyphs" stroke="#333" stroke-width="0.2">0. 4</text>
<line x1="26.4" y1="240.8" x2="30.2" y2="240.8" stroke="#555" stroke-width="1"/>
<line x1="105.4" y1="315.0" x2="105.4" y2="318.8" stroke="#555" stroke-width="1"/>
<text x="25.2" y="245.1" font-size="11" text-anchor="end" textLength="14.6" lengthAdjust="spacingAndGlyphs" stroke="#333" stroke-width="0.2">0. 6</text>
<text x="105.8" y="327.7" font-size="11" text-anchor="middle" textLength="14.8" lengthAdjust="spacingAndGlyphs" stroke="#333" stroke-width="0.2">0. 6</text>
<line x1="26.4" y1="216.1" x2="30.2" y2="216.1" stroke="#555" stroke-width="1"/>
<line x1="130.5" y1="315.0" x2="130.5" y2="318.8" stroke="#555" stroke-width="1"/>
<text x="25.2" y="220.4" font-size="11" text-anchor="end" textLength="14.6" lengthAdjust="spacingAndGlyphs" stroke="#333" stroke-width="0.2">0. 8</text>
<text x="130.9" y="327.7" font-size="11" text-anchor="middle" textLength="14.8" lengthAdjust="spacingAndGlyphs" stroke="#333" stroke-width="0.2">0. 8</text>
<line x1="26.4" y1="191.4" x2="30.2" y2="191.4" stroke="#555" stroke-width="1"/>
<line x1="155.6" y1="315.0" x2="155.6" y2="318.8" stroke="#555" stroke-width="1"/>
<text x="25.2" y="195.7" font-size="11" text-anchor="end" textLength="14.6" lengthAdjust="spacingAndGlyphs" stroke="#333" stroke-width="0.2">1. 0</text>
<text x="156.0" y="327.7" font-size="11" text-anchor="middle" textLength="14.8" lengthAdjust="spacingAndGlyphs" stroke="#333" stroke-width="0.2">1. 0</text>
<text class="b" x="29.6" y="188.5" font-size="9.8" text-anchor="middle">E</text>
<text class="b" x="0" y="0" font-size="10" text-anchor="middle" transform="translate(7.6,251.2) rotate(-90)">Sensitivity</text>
<rect x="204.2" y="191.3" width="123.7" height="124.3" fill="#efefef" stroke="#9a9a9a" stroke-width="1"/>
<line x1="204.2" y1="315.6" x2="327.9" y2="191.3" stroke="#74c88a" stroke-width="1.1"/>
<path d="M204.4,315.8 L204.4,291.5 L205.9,291.5 L205.9,264.9 L207.6,262.8 L208.6,258.6 L214.9,258.6 L214.9,245 L215.1,241.7 L216.5,231.9 L218.1,230 L219.4,223.1 L221,222.2 L221.4,213.4 L224.3,205.5 L224.3,200.6 L226.3,198.3 L249.4,198.2 L249.7,195 L285.1,195 L287.9,191.9 L327.7,191.9" fill="none" stroke="#9094ca" stroke-width="1.0"/>
<line x1="200.4" y1="315.6" x2="204.2" y2="315.6" stroke="#555" stroke-width="1"/>
<line x1="204.2" y1="315.6" x2="204.2" y2="319.4" stroke="#555" stroke-width="1"/>
<text x="199.2" y="319.9" font-size="11" text-anchor="end" textLength="14.6" lengthAdjust="spacingAndGlyphs" stroke="#333" stroke-width="0.2">0. 0</text>
<text x="204.6" y="328.3" font-size="11" text-anchor="middle" textLength="14.8" lengthAdjust="spacingAndGlyphs" stroke="#333" stroke-width="0.2">0. 0</text>
<line x1="200.4" y1="290.7" x2="204.2" y2="290.7" stroke="#555" stroke-width="1"/>
<line x1="228.9" y1="315.6" x2="228.9" y2="319.4" stroke="#555" stroke-width="1"/>
<text x="199.2" y="295.0" font-size="11" text-anchor="end" textLength="14.6" lengthAdjust="spacingAndGlyphs" stroke="#333" stroke-width="0.2">0. 2</text>
<text x="229.3" y="328.3" font-size="11" text-anchor="middle" textLength="14.8" lengthAdjust="spacingAndGlyphs" stroke="#333" stroke-width="0.2">0. 2</text>
<line x1="200.4" y1="265.9" x2="204.2" y2="265.9" stroke="#555" stroke-width="1"/>
<line x1="253.7" y1="315.6" x2="253.7" y2="319.4" stroke="#555" stroke-width="1"/>
<text x="199.2" y="270.2" font-size="11" text-anchor="end" textLength="14.6" lengthAdjust="spacingAndGlyphs" stroke="#333" stroke-width="0.2">0. 4</text>
<text x="254.1" y="328.3" font-size="11" text-anchor="middle" textLength="14.8" lengthAdjust="spacingAndGlyphs" stroke="#333" stroke-width="0.2">0. 4</text>
<line x1="200.4" y1="241.0" x2="204.2" y2="241.0" stroke="#555" stroke-width="1"/>
<line x1="278.4" y1="315.6" x2="278.4" y2="319.4" stroke="#555" stroke-width="1"/>
<text x="199.2" y="245.3" font-size="11" text-anchor="end" textLength="14.6" lengthAdjust="spacingAndGlyphs" stroke="#333" stroke-width="0.2">0. 6</text>
<text x="278.8" y="328.3" font-size="11" text-anchor="middle" textLength="14.8" lengthAdjust="spacingAndGlyphs" stroke="#333" stroke-width="0.2">0. 6</text>
<line x1="200.4" y1="216.2" x2="204.2" y2="216.2" stroke="#555" stroke-width="1"/>
<line x1="303.2" y1="315.6" x2="303.2" y2="319.4" stroke="#555" stroke-width="1"/>
<text x="199.2" y="220.5" font-size="11" text-anchor="end" textLength="14.6" lengthAdjust="spacingAndGlyphs" stroke="#333" stroke-width="0.2">0. 8</text>
<text x="303.6" y="328.3" font-size="11" text-anchor="middle" textLength="14.8" lengthAdjust="spacingAndGlyphs" stroke="#333" stroke-width="0.2">0. 8</text>
<line x1="200.4" y1="191.3" x2="204.2" y2="191.3" stroke="#555" stroke-width="1"/>
<line x1="327.9" y1="315.6" x2="327.9" y2="319.4" stroke="#555" stroke-width="1"/>
<text x="199.2" y="195.6" font-size="11" text-anchor="end" textLength="14.6" lengthAdjust="spacingAndGlyphs" stroke="#333" stroke-width="0.2">1. 0</text>
<text x="328.3" y="328.3" font-size="11" text-anchor="middle" textLength="14.8" lengthAdjust="spacingAndGlyphs" stroke="#333" stroke-width="0.2">1. 0</text>
<text class="b" x="205.2" y="189.3" font-size="9.8" text-anchor="middle">F</text>
<text class="b" x="0" y="0" font-size="10" text-anchor="middle" transform="translate(181.6,251.5) rotate(-90)">Sensitivity</text>
<rect x="373.2" y="190.3" width="125.1" height="124.6" fill="#efefef" stroke="#9a9a9a" stroke-width="1"/>
<line x1="373.2" y1="314.9" x2="498.3" y2="190.3" stroke="#74c88a" stroke-width="1.1"/>
<path d="M373.4,314.9 L373.4,288 L375,287 L375,251.4 L378.3,251.4 L378.3,238.3 L379.7,238.3 L380.6,235.8 L382.6,234.8 L384.6,233.4 L386.1,231.9 L388.1,231.9 L388.1,209.4 L393.4,209.4 L393.4,203.5 L395.3,201 L397.3,200 L403.1,200 L406.1,198.3 L409,196.5 L414.9,196.3 L419,193.4 L468,193.4 L468,190.4 L498.3,190.4" fill="none" stroke="#9094ca" stroke-width="1.0"/>
<line x1="369.4" y1="314.9" x2="373.2" y2="314.9" stroke="#555" stroke-width="1"/>
<line x1="373.2" y1="314.9" x2="373.2" y2="318.7" stroke="#555" stroke-width="1"/>
<text x="368.2" y="319.2" font-size="11" text-anchor="end" textLength="14.6" lengthAdjust="spacingAndGlyphs" stroke="#333" stroke-width="0.2">0. 0</text>
<text x="373.6" y="327.6" font-size="11" text-anchor="middle" textLength="14.8" lengthAdjust="spacingAndGlyphs" stroke="#333" stroke-width="0.2">0. 0</text>
<line x1="369.4" y1="290.0" x2="373.2" y2="290.0" stroke="#555" stroke-width="1"/>
<line x1="398.2" y1="314.9" x2="398.2" y2="318.7" stroke="#555" stroke-width="1"/>
<text x="368.2" y="294.3" font-size="11" text-anchor="end" textLength="14.6" lengthAdjust="spacingAndGlyphs" stroke="#333" stroke-width="0.2">0. 2</text>
<text x="398.6" y="327.6" font-size="11" text-anchor="middle" textLength="14.8" lengthAdjust="spacingAndGlyphs" stroke="#333" stroke-width="0.2">0. 2</text>
<line x1="369.4" y1="265.1" x2="373.2" y2="265.1" stroke="#555" stroke-width="1"/>
<line x1="423.2" y1="314.9" x2="423.2" y2="318.7" stroke="#555" stroke-width="1"/>
<text x="368.2" y="269.4" font-size="11" text-anchor="end" textLength="14.6" lengthAdjust="spacingAndGlyphs" stroke="#333" stroke-width="0.2">0. 4</text>
<text x="423.6" y="327.6" font-size="11" text-anchor="middle" textLength="14.8" lengthAdjust="spacingAndGlyphs" stroke="#333" stroke-width="0.2">0. 4</text>
<line x1="369.4" y1="240.1" x2="373.2" y2="240.1" stroke="#555" stroke-width="1"/>
<line x1="448.3" y1="314.9" x2="448.3" y2="318.7" stroke="#555" stroke-width="1"/>
<text x="368.2" y="244.4" font-size="11" text-anchor="end" textLength="14.6" lengthAdjust="spacingAndGlyphs" stroke="#333" stroke-width="0.2">0. 6</text>
<text x="448.7" y="327.6" font-size="11" text-anchor="middle" textLength="14.8" lengthAdjust="spacingAndGlyphs" stroke="#333" stroke-width="0.2">0. 6</text>
<line x1="369.4" y1="215.2" x2="373.2" y2="215.2" stroke="#555" stroke-width="1"/>
<line x1="473.3" y1="314.9" x2="473.3" y2="318.7" stroke="#555" stroke-width="1"/>
<text x="368.2" y="219.5" font-size="11" text-anchor="end" textLength="14.6" lengthAdjust="spacingAndGlyphs" stroke="#333" stroke-width="0.2">0. 8</text>
<text x="473.7" y="327.6" font-size="11" text-anchor="middle" textLength="14.8" lengthAdjust="spacingAndGlyphs" stroke="#333" stroke-width="0.2">0. 8</text>
<line x1="369.4" y1="190.3" x2="373.2" y2="190.3" stroke="#555" stroke-width="1"/>
<line x1="498.3" y1="314.9" x2="498.3" y2="318.7" stroke="#555" stroke-width="1"/>
<text x="368.2" y="194.6" font-size="11" text-anchor="end" textLength="14.6" lengthAdjust="spacingAndGlyphs" stroke="#333" stroke-width="0.2">1. 0</text>
<text x="498.7" y="327.6" font-size="11" text-anchor="middle" textLength="14.8" lengthAdjust="spacingAndGlyphs" stroke="#333" stroke-width="0.2">1. 0</text>
<text class="b" x="372.3" y="187.7" font-size="9.8" text-anchor="middle">G</text>
<text class="b" x="0" y="0" font-size="10" text-anchor="middle" transform="translate(350.6,250.6) rotate(-90)">Sensitivity</text>
<rect x="543.2" y="191.3" width="126.4" height="124.0" fill="#efefef" stroke="#9a9a9a" stroke-width="1"/>
<line x1="543.2" y1="315.3" x2="669.6" y2="191.3" stroke="#74c88a" stroke-width="1.1"/>
<path d="M543.4,315.2 L543.4,257.6 L545.4,257.6 L545.4,240.7 L548.3,240.7 L548.3,227 L553.2,227 L553.6,225.1 L558.1,219.2 L558.5,214.3 L561,214.3 L561.4,204.6 L563.4,202.6 L563.4,201.6 L571.2,201.6 L571.6,198.4 L606.1,198.4 L609.6,195.3 L628.3,195.3 L630.6,192 L669.5,192" fill="none" stroke="#9094ca" stroke-width="1.0"/>
<line x1="539.4" y1="315.3" x2="543.2" y2="315.3" stroke="#555" stroke-width="1"/>
<line x1="543.2" y1="315.3" x2="543.2" y2="319.1" stroke="#555" stroke-width="1"/>
<text x="538.2" y="319.6" font-size="11" text-anchor="end" textLength="14.6" lengthAdjust="spacingAndGlyphs" stroke="#333" stroke-width="0.2">0. 0</text>
<text x="543.6" y="328.0" font-size="11" text-anchor="middle" textLength="14.8" lengthAdjust="spacingAndGlyphs" stroke="#333" stroke-width="0.2">0. 0</text>
<line x1="539.4" y1="290.5" x2="543.2" y2="290.5" stroke="#555" stroke-width="1"/>
<line x1="568.5" y1="315.3" x2="568.5" y2="319.1" stroke="#555" stroke-width="1"/>
<text x="538.2" y="294.8" font-size="11" text-anchor="end" textLength="14.6" lengthAdjust="spacingAndGlyphs" stroke="#333" stroke-width="0.2">0. 2</text>
<text x="568.9" y="328.0" font-size="11" text-anchor="middle" textLength="14.8" lengthAdjust="spacingAndGlyphs" stroke="#333" stroke-width="0.2">0. 2</text>
<line x1="539.4" y1="265.7" x2="543.2" y2="265.7" stroke="#555" stroke-width="1"/>
<line x1="593.8" y1="315.3" x2="593.8" y2="319.1" stroke="#555" stroke-width="1"/>
<text x="538.2" y="270.0" font-size="11" text-anchor="end" textLength="14.6" lengthAdjust="spacingAndGlyphs" stroke="#333" stroke-width="0.2">0. 4</text>
<text x="594.2" y="328.0" font-size="11" text-anchor="middle" textLength="14.8" lengthAdjust="spacingAndGlyphs" stroke="#333" stroke-width="0.2">0. 4</text>
<line x1="539.4" y1="240.9" x2="543.2" y2="240.9" stroke="#555" stroke-width="1"/>
<line x1="619.0" y1="315.3" x2="619.0" y2="319.1" stroke="#555" stroke-width="1"/>
<text x="538.2" y="245.2" font-size="11" text-anchor="end" textLength="14.6" lengthAdjust="spacingAndGlyphs" stroke="#333" stroke-width="0.2">0. 6</text>
<text x="619.4" y="328.0" font-size="11" text-anchor="middle" textLength="14.8" lengthAdjust="spacingAndGlyphs" stroke="#333" stroke-width="0.2">0. 6</text>
<line x1="539.4" y1="216.1" x2="543.2" y2="216.1" stroke="#555" stroke-width="1"/>
<line x1="644.3" y1="315.3" x2="644.3" y2="319.1" stroke="#555" stroke-width="1"/>
<text x="538.2" y="220.4" font-size="11" text-anchor="end" textLength="14.6" lengthAdjust="spacingAndGlyphs" stroke="#333" stroke-width="0.2">0. 8</text>
<text x="644.7" y="328.0" font-size="11" text-anchor="middle" textLength="14.8" lengthAdjust="spacingAndGlyphs" stroke="#333" stroke-width="0.2">0. 8</text>
<line x1="539.4" y1="191.3" x2="543.2" y2="191.3" stroke="#555" stroke-width="1"/>
<line x1="669.6" y1="315.3" x2="669.6" y2="319.1" stroke="#555" stroke-width="1"/>
<text x="538.2" y="195.6" font-size="11" text-anchor="end" textLength="14.6" lengthAdjust="spacingAndGlyphs" stroke="#333" stroke-width="0.2">1. 0</text>
<text x="670.0" y="328.0" font-size="11" text-anchor="middle" textLength="14.8" lengthAdjust="spacingAndGlyphs" stroke="#333" stroke-width="0.2">1. 0</text>
<text class="b" x="543.2" y="189.1" font-size="9.8" text-anchor="middle">H</text>
<text class="b" x="0" y="0" font-size="10" text-anchor="middle" transform="translate(520.6,251.3) rotate(-90)">Sensitivity</text>
</svg></body></html>
